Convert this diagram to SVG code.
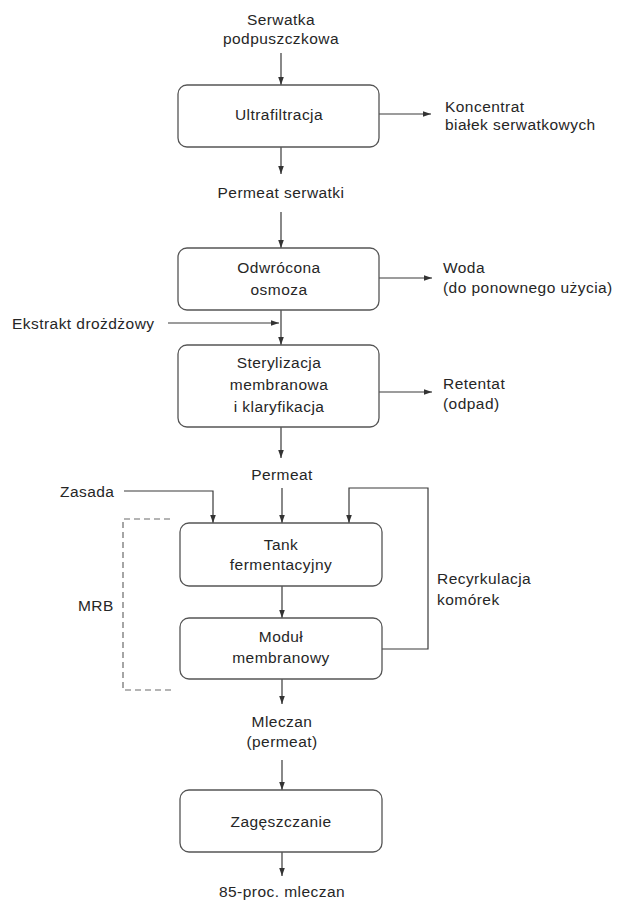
<svg xmlns="http://www.w3.org/2000/svg" width="624" height="901" viewBox="0 0 624 901">
  <defs>
    <marker id="arrow" viewBox="0 0 10 10" refX="10" refY="5" markerWidth="9" markerHeight="8" markerUnits="userSpaceOnUse" orient="auto">
      <path d="M0,1.5 L10,5 L0,8.5 Z" fill="#333"/>
    </marker>
    <style>
      .box { fill: #fff; stroke: #555; stroke-width: 1.3; }
      .line { fill: none; stroke: #3a3a3a; stroke-width: 1.2; }
      .flow { fill: none; stroke: #3a3a3a; stroke-width: 1.2; marker-end: url(#arrow); }
      .dash { fill: none; stroke: #6a6a6a; stroke-width: 1.2; stroke-dasharray: 6 4; }
      text { font-family: "Liberation Sans", Arial, sans-serif; font-size: 15.5px; letter-spacing: 0.45px; fill: #262626; }
      .c { text-anchor: middle; }
    </style>
  </defs>

  <rect width="624" height="901" fill="#fff"/>

  <!-- connectors -->
  <g id="connectors">
    <line class="flow" x1="281" y1="53" x2="281" y2="85"/>
    <line class="flow" x1="378" y1="114" x2="431" y2="114"/>
    <line class="flow" x1="281" y1="147" x2="281" y2="174"/>
    <line class="flow" x1="281" y1="212" x2="281" y2="248"/>
    <line class="flow" x1="379" y1="278" x2="432" y2="278"/>
    <line class="flow" x1="281" y1="310" x2="281" y2="345"/>
    <line class="flow" x1="168" y1="323" x2="279" y2="323"/>
    <line class="flow" x1="379" y1="392" x2="432" y2="392"/>
    <line class="flow" x1="281" y1="427" x2="281" y2="458"/>
    <polyline class="flow" points="124,491 213,491 213,523"/>
    <line class="flow" x1="282" y1="488" x2="282" y2="523"/>
    <polyline class="flow" points="382,649 428,649 428,488 349,488 349,523"/>
    <line class="flow" x1="282" y1="586" x2="282" y2="618"/>
    <line class="flow" x1="282" y1="679" x2="282" y2="704"/>
    <line class="flow" x1="282" y1="760" x2="282" y2="790"/>
    <line class="flow" x1="282" y1="852" x2="282" y2="876"/>
    <polyline class="dash" points="170,519 123,519 123,690 172,690"/>
  </g>

  <!-- external streams -->
  <g id="inputs">
    <text class="c" x="281" y="25">Serwatka</text>
    <text class="c" x="281" y="44">podpuszczkowa</text>
    <text x="12" y="329">Ekstrakt drożdżowy</text>
    <text x="60" y="497">Zasada</text>
    <text class="c" x="282" y="480">Permeat</text>
    <text x="78" y="611">MRB</text>
  </g>

  <g id="outputs">
    <text x="445" y="112">Koncentrat</text>
    <text x="445" y="130">białek serwatkowych</text>
    <text class="c" x="281" y="198">Permeat serwatki</text>
    <text x="443" y="273">Woda</text>
    <text x="443" y="293">(do ponownego użycia)</text>
    <text x="443" y="389">Retentat</text>
    <text x="443" y="409">(odpad)</text>
    <text x="437" y="584">Recyrkulacja</text>
    <text x="437" y="605">komórek</text>
    <text class="c" x="282" y="727">Mleczan</text>
    <text class="c" x="282" y="747">(permeat)</text>
    <text class="c" x="282" y="897">85-proc. mleczan</text>
  </g>

  <!-- process units -->
  <g id="ultrafiltracja">
    <rect class="box" x="178" y="85" width="201" height="62" rx="9"/>
    <text class="c" x="279" y="120">Ultrafiltracja</text>
  </g>

  <g id="odwrocona-osmoza">
    <rect class="box" x="178" y="248" width="201" height="62" rx="9"/>
    <text class="c" x="279" y="273">Odwrócona</text>
    <text class="c" x="279" y="295">osmoza</text>
  </g>

  <g id="sterylizacja">
    <rect class="box" x="178" y="345" width="201" height="82" rx="9"/>
    <text class="c" x="279" y="368">Sterylizacja</text>
    <text class="c" x="279" y="390">membranowa</text>
    <text class="c" x="279" y="412">i klaryfikacja</text>
  </g>

  <g id="tank">
    <rect class="box" x="180" y="523" width="202" height="63" rx="9"/>
    <text class="c" x="281" y="550">Tank</text>
    <text class="c" x="281" y="570">fermentacyjny</text>
  </g>

  <g id="modul">
    <rect class="box" x="180" y="618" width="202" height="61" rx="9"/>
    <text class="c" x="281" y="642">Moduł</text>
    <text class="c" x="281" y="663">membranowy</text>
  </g>

  <g id="zageszczanie">
    <rect class="box" x="180" y="790" width="202" height="62" rx="9"/>
    <text class="c" x="281" y="827">Zagęszczanie</text>
  </g>
</svg>
